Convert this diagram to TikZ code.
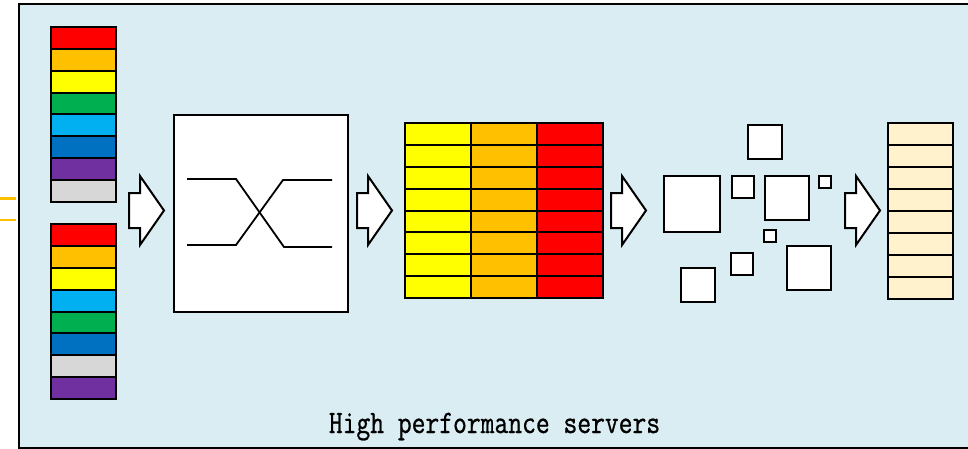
\documentclass[tikz,border=0pt]{standalone}
\usepackage{fontspec}
\usepackage{graphicx}
\newfontfamily\lblfont[FakeBold=0.9]{Latin Modern Mono}
\definecolor{bgblue}{HTML}{DAEDF3}
\definecolor{cred}{HTML}{FF0000}
\definecolor{corange}{HTML}{FFC000}
\definecolor{cyellow}{HTML}{FFFF00}
\definecolor{cgreen}{HTML}{00B050}
\definecolor{clblue}{HTML}{00B0F0}
\definecolor{cblue}{HTML}{0070C0}
\definecolor{cpurple}{HTML}{7030A0}
\definecolor{cgray}{HTML}{D7D7D7}
\definecolor{ccream}{HTML}{FFF2CC}
\tikzset{
  outline/.style={draw=black, line width=2pt},
  cell/.style={outline, minimum width=65pt, minimum height=21.9pt, inner sep=0pt, anchor=north west},
  tcell/.style={outline, minimum width=66pt, minimum height=21.9pt, inner sep=0pt, anchor=north west},
  sq/.style={outline, fill=white, inner sep=0pt, anchor=north west},
  wire/.style={line width=1.8pt, line join=miter},
  feed/.style={draw=corange, line width=2.2pt},
  blockarr/.pic={\draw[outline, fill=white, line join=miter] (0,-17.5) -- (11,-17.5) -- (11,-34.5) -- (35,0) -- (11,34.5) -- (11,17.5) -- (0,17.5) -- cycle;}
}
\begin{document}
\begin{tikzpicture}[x=1pt, y=-1pt]
\useasboundingbox (0,0) rectangle (968,449);
% background panel
\draw[fill=bgblue, draw=black, line width=2pt] (19,4) rectangle (980,448);
% orange feed lines
\coordinate (f1a) at (-2,198.5); \coordinate (f1b) at (16,198.5);
\coordinate (f2a) at (-2,220); \coordinate (f2b) at (16,220);
\draw[feed] (f1a) -- (f1b);
\draw[feed] (f2a) -- (f2b);
% left stacks
\foreach \c [count=\i from 0] in {cred,corange,cyellow,cgreen,clblue,cblue,cpurple,cgray}
  \node[cell, fill=\c] (top\i) at (49.5,{26+21.875*\i}) {};
\foreach \c [count=\i from 0] in {cred,corange,cyellow,clblue,cgreen,cblue,cgray,cpurple}
  \node[cell, fill=\c] (bot\i) at (49.5,{223+21.875*\i}) {};
% arrows
\pic at (129,210.5) {blockarr};
\pic at (357,210.5) {blockarr};
\pic at (611,210.5) {blockarr};
\pic at (845,210.5) {blockarr};
% switch box
\node[outline, fill=white, minimum width=174pt, minimum height=196pt, inner sep=0pt, anchor=north west] (sw) at (172.5,114.5) {};
\coordinate (ul) at (187,179); \coordinate (ur) at (332,180);
\coordinate (ll) at (187,245); \coordinate (lr) at (332,247);
\draw[wire] (ul) -- (236,179) -- (284,247) -- (lr);
\draw[wire] (ll) -- (236,245) -- (283,180) -- (ur);
% table
\foreach \r in {0,...,7}{
  \node[tcell, fill=cyellow] (ta\r) at (404,{122+21.875*\r}) {};
  \node[tcell, fill=corange] (tb\r) at (470,{122+21.875*\r}) {};
  \node[tcell, fill=cred] (tc\r) at (536,{122+21.875*\r}) {};
}
% scattered squares
\node[sq, minimum size=34pt] (s1) at (747,124) {};
\node[sq, minimum size=56pt] (s2) at (663,175) {};
\node[sq, minimum size=22pt] (s3) at (731,175) {};
\node[sq, minimum size=44pt] (s4) at (764,175) {};
\node[sq, minimum size=12pt] (s5) at (818,175) {};
\node[sq, minimum size=12pt] (s6) at (763,229) {};
\node[sq, minimum size=22pt] (s7) at (730,252) {};
\node[sq, minimum size=44pt] (s8) at (786,245) {};
\node[sq, minimum size=34pt] (s9) at (680,267) {};
% right stack
\foreach \i in {0,...,7}
  \node[cell, fill=ccream] (out\i) at (886.5,{122+21.95*\i}) {};
% label
\node[anchor=base, inner sep=0pt] (label) at (494.5,433) {\scalebox{1}[1.22]{\fontsize{26.8pt}{30pt}\lblfont High performance servers}};
\end{tikzpicture}
\end{document}
